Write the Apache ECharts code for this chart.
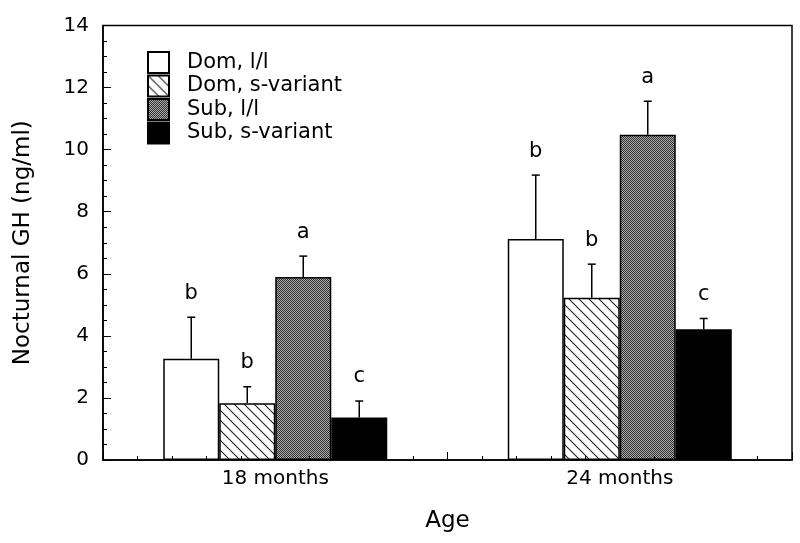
<!DOCTYPE html>
<html>
<head>
<meta charset="utf-8">
<script src="https://cdn.jsdelivr.net/npm/echarts@6/dist/echarts.min.js"></script>
<style>html,body{margin:0;padding:0;background:#fff;}#c{width:800px;height:543px;}</style>
</head>
<body>
<div id="c"></div>
<script>
// ---- data ----
const categories = ['18 months', '24 months'];
const seriesNames = ['Dom, l/l', 'Dom, s-variant', 'Sub, l/l', 'Sub, s-variant'];
const domLL = [3.26, 7.12];
const domS = [1.83, 5.23];
const subLL = [5.9, 10.48];
const subS = [1.37, 4.21];
const errDomLL = [1.34, 2.06];
const errDomS = [0.53, 1.08];
const errSubLL = [0.67, 1.08];
const errSubS = [0.53, 0.35];
const lettersDomLL = ['b', 'b'];
const lettersDomS = ['b', 'b'];
const lettersSubLL = ['a', 'a'];
const lettersSubS = ['c', 'c'];
const yTicks = [0, 14, 2];

const means = [domLL, domS, subLL, subS];
const errs = [errDomLL, errDomS, errSubLL, errSubS];
const letters = [lettersDomLL, lettersDomS, lettersSubLL, lettersSubS];

// ---- patterns ----
function hatch() {
  const c = document.createElement('canvas'); c.width = 10; c.height = 10;
  const g = c.getContext('2d');
  g.fillStyle = '#fff'; g.fillRect(0, 0, 10, 10);
  g.strokeStyle = '#222'; g.lineWidth = 1.1;
  g.beginPath();
  g.moveTo(-2, -2); g.lineTo(12, 12);
  g.moveTo(-12, -2); g.lineTo(2, 12);
  g.moveTo(8, -2); g.lineTo(22, 12);
  g.stroke();
  return c;
}
function stipple() {
  const c = document.createElement('canvas'); c.width = 2; c.height = 2;
  const g = c.getContext('2d');
  g.fillStyle = '#aaa'; g.fillRect(0, 0, 2, 2);
  g.fillStyle = '#333'; g.fillRect(0, 0, 1, 1); g.fillRect(1, 1, 1, 1);
  return c;
}
const fills = ['#ffffff', {image: hatch(), repeat: 'repeat'}, {image: stipple(), repeat: 'repeat'}, '#000000'];

const FONT = 'DejaVu Sans';
const BAR_W = 56;

const series = [];
seriesNames.forEach((name, i) => {
  series.push({
    name: name, type: 'bar', xAxisIndex: 0, yAxisIndex: 0,
    barWidth: BAR_W, barGap: '0%',
    data: means[i],
    itemStyle: {color: fills[i], borderColor: '#000', borderWidth: 1.5},
    z: 2
  });
});
seriesNames.forEach((name, i) => {
  series.push({
    type: 'custom', xAxisIndex: 0, yAxisIndex: 0, z: 4,
    data: means[i].map((v, k) => [k, v, errs[i][k]]),
    renderItem: function (params, api) {
      const k = api.value(0), v = api.value(1), e = api.value(2);
      const base = api.coord([k, v]);
      const top = api.coord([k, v + e]);
      const cx = base[0] + (i - 1.5) * BAR_W;
      const st = {stroke: '#000', lineWidth: 1.5};
      return {
        type: 'group', children: [
          {type: 'line', shape: {x1: cx, y1: base[1], x2: cx, y2: top[1]}, style: st},
          {type: 'line', shape: {x1: cx - 4, y1: top[1], x2: cx + 4, y2: top[1]}, style: st},
          {type: 'text', x: cx, y: top[1] - 24, style: {text: letters[i][params.dataIndex], fontFamily: FONT, fontSize: 21, fill: '#000', align: 'center', verticalAlign: 'middle'}}
        ]
      };
    }
  });
});

const chart = echarts.init(document.getElementById('c'));
chart.setOption({
  animation: false,
  backgroundColor: '#fff',
  grid: {left: 103, right: 8, top: 25.5, bottom: 83, show: true, borderColor: '#000', borderWidth: 1.5, backgroundColor: 'transparent'},
  legend: {
    data: seriesNames, orient: 'vertical', left: 147, top: 51, padding: 0,
    itemWidth: 21, itemHeight: 21, itemGap: 0.5, icon: 'rect',
    textStyle: {fontFamily: FONT, fontSize: 21, lineHeight: 21, color: '#000', padding: [0, 0, 0, 13]}
  },
  xAxis: [
    {
      type: 'category', data: categories, position: 'bottom',
      axisLine: {show: true, lineStyle: {color: '#000', width: 1.5}},
      axisTick: {show: false},
      axisLabel: {fontFamily: FONT, fontSize: 20, color: '#000', margin: 9},
      name: 'Age', nameLocation: 'middle', nameGap: 50,
      nameTextStyle: {fontFamily: FONT, fontSize: 23, color: '#000'}
    },
    {
      type: 'value', min: 0, max: 20, interval: 10, position: 'bottom', z: 10,
      axisLine: {show: false}, axisLabel: {show: false}, splitLine: {show: false},
      axisTick: {show: true, inside: true, length: 8, lineStyle: {color: '#000', width: 1}},
      minorTick: {show: true, splitNumber: 10, length: 4, lineStyle: {color: '#000', width: 1}}
    }
  ],
  yAxis: {
    type: 'value', min: yTicks[0], max: yTicks[1], interval: yTicks[2],
    axisLine: {show: true, lineStyle: {color: '#000', width: 1.5}},
    axisTick: {show: true, inside: true, length: 8, lineStyle: {color: '#000', width: 1}},
    minorTick: {show: true, splitNumber: 4, length: 4, lineStyle: {color: '#000', width: 1}},
    splitLine: {show: false},
    axisLabel: {fontFamily: FONT, fontSize: 20, color: '#000', margin: 14},
    name: 'Nocturnal GH (ng/ml)', nameLocation: 'middle', nameGap: 68,
    nameTextStyle: {fontFamily: FONT, fontSize: 23, color: '#000'}
  },
  series: series
});
</script>
</body>
</html>
